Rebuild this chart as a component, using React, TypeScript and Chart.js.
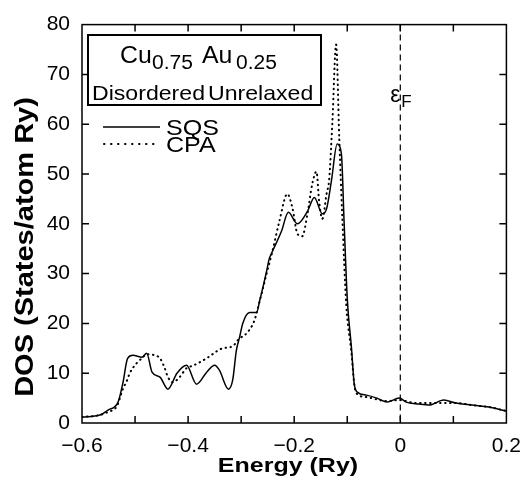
import React, { useEffect, useRef } from "react";
import { Chart, registerables } from "chart.js";

Chart.register(...registerables);

// ---- Data ----
const sqsEnergy = [-0.600, -0.566, -0.551, -0.532, -0.523, -0.514, -0.504, -0.487, -0.478, -0.468, -0.453, -0.438, -0.421, -0.403, -0.384, -0.365, -0.350, -0.341, -0.324, -0.316, -0.309, -0.303, -0.297, -0.284, -0.271, -0.265, -0.252, -0.247, -0.243, -0.224, -0.211, -0.194, -0.175, -0.162, -0.147, -0.139, -0.130, -0.119, -0.111, -0.106, -0.100, -0.092, -0.087, -0.081, -0.064, -0.044, -0.025, -0.002, 0.011, 0.035, 0.054, 0.082, 0.105, 0.135, 0.167, 0.200];
const sqsDos = [1.2, 1.6, 2.6, 4.2, 8, 13, 13.6, 13.2, 14, 10.2, 9.2, 6.8, 10, 11.6, 7.8, 10.2, 11.6, 10.6, 6.8, 8.6, 14.6, 17.2, 20, 22.2, 22.2, 24.6, 30.5, 33, 34, 38.5, 42.3, 40, 42.5, 45.3, 42, 43, 48.5, 56, 54, 40.5, 25, 15, 8, 6.2, 5.6, 5, 4.2, 5, 4.2, 3.8, 3.6, 4.6, 4, 3.6, 3.2, 2.4];

const cpaEnergy = [-0.600, -0.566, -0.551, -0.542, -0.534, -0.523, -0.515, -0.510, -0.497, -0.487, -0.478, -0.463, -0.453, -0.444, -0.438, -0.429, -0.416, -0.403, -0.391, -0.378, -0.365, -0.335, -0.316, -0.305, -0.288, -0.275, -0.265, -0.252, -0.241, -0.228, -0.213, -0.203, -0.194, -0.185, -0.175, -0.166, -0.158, -0.153, -0.147, -0.139, -0.134, -0.128, -0.121, -0.115, -0.109, -0.102, -0.092, -0.087, -0.083, -0.064, -0.025, -0.002, 0.030, 0.079, 0.105, 0.135, 0.167, 0.200];
const cpaDos = [1.2, 1.6, 2.2, 2.6, 3.4, 6.8, 8.6, 10, 12, 13, 13.8, 13.6, 13, 11, 9.2, 8.2, 9.2, 11, 11.5, 12.2, 13, 15, 15.4, 16.8, 18.2, 20.6, 24.5, 30, 34.5, 40.5, 46, 43, 38, 37.5, 42, 48, 50.5, 44.5, 41, 46, 49, 60.5, 76, 57, 40.5, 24, 14, 8, 6, 5.2, 4.4, 4.6, 4, 4, 4, 3.6, 3.2, 2.4];

const xTickLabels = [-0.6, -0.4, -0.2, 0, 0.2];
const yTickLabels = [0, 10, 20, 30, 40, 50, 60, 70, 80];
const xTickMarks = [-0.5, -0.4, -0.3, -0.2, -0.1, 0, 0.1];
const yTickMarks = [10, 20, 30, 40, 50, 60, 70];
const fermiEnergy = 0;

const seriesNames = ["SQS", "CPA"];
const titleLine1 = [["Cu", "0.75"], ["Au", "0.25"]];
const titleLine2 = ["Disordered", "Unrelaxed"];
const xTitle = "Energy (Ry)";
const yTitle = "DOS (States/atom Ry)";

const FONT = '"Liberation Sans", Arial, Helvetica, sans-serif';

function drawText(
  ctx: CanvasRenderingContext2D,
  text: string,
  x: number,
  y: number,
  size: number,
  bold = false,
  sx = 1,
  align: "left" | "center" = "left"
) {
  ctx.save();
  ctx.font = `${bold ? "bold " : ""}${size}px ${FONT}`;
  ctx.textBaseline = "alphabetic";
  ctx.textAlign = "left";
  ctx.fillStyle = "#000";
  const w = ctx.measureText(text).width * sx;
  const x0 = align === "center" ? x - w / 2 : x;
  ctx.translate(x0, y);
  ctx.scale(sx, 1);
  ctx.fillText(text, 0, 0);
  ctx.restore();
}

const decorPlugin = {
  id: "decor",
  beforeDatasetsDraw(chart: any) {
    const { ctx, chartArea, scales } = chart;
    const { top, bottom } = chartArea;
    const xs = scales.x;
    ctx.save();
    const xf = xs.getPixelForValue(fermiEnergy);
    ctx.strokeStyle = "#000";
    ctx.lineWidth = 1.2;
    ctx.setLineDash([6, 4]);
    ctx.beginPath();
    ctx.moveTo(xf, top);
    ctx.lineTo(xf, bottom);
    ctx.stroke();
    ctx.restore();
  },
  afterDatasetsDraw(chart: any) {
    const { ctx, chartArea, scales } = chart;
    const { left, right, top, bottom } = chartArea;
    const xs = scales.x;
    const ys = scales.y;
    ctx.save();
    ctx.strokeStyle = "#000";
    ctx.lineWidth = 1.5;
    ctx.setLineDash([]);
    ctx.strokeRect(left, top, right - left, bottom - top);
    const tl = 7;
    ctx.beginPath();
    for (const v of xTickMarks) {
      const p = xs.getPixelForValue(v);
      ctx.moveTo(p, bottom);
      ctx.lineTo(p, bottom - tl);
      ctx.moveTo(p, top);
      ctx.lineTo(p, top + tl);
    }
    for (const v of yTickMarks) {
      const p = ys.getPixelForValue(v);
      ctx.moveTo(left, p);
      ctx.lineTo(left + tl, p);
      ctx.moveTo(right, p);
      ctx.lineTo(right - tl, p);
    }
    ctx.stroke();

    // Fermi label
    const xf = xs.getPixelForValue(fermiEnergy);
    drawText(ctx, "ε", xf - 10, 102, 24, false, 0.95);
    drawText(ctx, "F", xf + 1, 107, 17, false, 1);

    // Title box
    ctx.fillStyle = "#fff";
    ctx.fillRect(88, 35, 233, 70);
    ctx.lineWidth = 2;
    ctx.strokeRect(88, 35, 233, 70);
    drawText(ctx, titleLine1[0][0], 120, 63, 23, false, 1.08);
    drawText(ctx, titleLine1[0][1], 152, 69, 20, false, 1.05);
    drawText(ctx, titleLine1[1][0], 202, 63, 23, false, 1.08);
    drawText(ctx, titleLine1[1][1], 236, 69, 20, false, 1.05);
    drawText(ctx, titleLine2[0], 92, 100, 21, false, 1.1);
    drawText(ctx, titleLine2[1], 208, 100, 21, false, 1.1);

    // Series legend
    ctx.lineWidth = 1.5;
    ctx.beginPath();
    ctx.moveTo(103, 127);
    ctx.lineTo(160, 127);
    ctx.stroke();
    ctx.lineWidth = 2;
    ctx.lineCap = "round";
    ctx.setLineDash([0.5, 6.5]);
    ctx.beginPath();
    ctx.moveTo(104, 144);
    ctx.lineTo(160, 144);
    ctx.stroke();
    ctx.setLineDash([]);
    ctx.lineCap = "butt";
    drawText(ctx, seriesNames[0], 166, 135, 22, false, 1.14);
    drawText(ctx, seriesNames[1], 166, 152, 22, false, 1.14);

    // Axis titles
    drawText(ctx, xTitle, 288, 472, 21, true, 1.19, "center");
    ctx.save();
    ctx.translate(33, 247);
    ctx.rotate(-Math.PI / 2);
    drawText(ctx, yTitle, 0, 0, 25, true, 1.16, "center");
    ctx.restore();
    ctx.restore();
  },
};

export default function App() {
  const ref = useRef<HTMLCanvasElement>(null);
  useEffect(() => {
    const sqsData = sqsEnergy.map((e, i) => ({ x: e, y: sqsDos[i] }));
    const cpaData = cpaEnergy.map((e, i) => ({ x: e, y: cpaDos[i] }));
    const chart = new Chart(ref.current as HTMLCanvasElement, {
      type: "line",
      data: {
        datasets: [
          {
            label: seriesNames[0],
            data: sqsData,
            borderColor: "#000",
            borderWidth: 1.5,
            pointRadius: 0,
            cubicInterpolationMode: "monotone",
            fill: false,
          },
          {
            label: seriesNames[1],
            data: cpaData,
            borderColor: "#000",
            borderWidth: 2,
            borderDash: [0.5, 4.5],
            borderCapStyle: "round",
            pointRadius: 0,
            cubicInterpolationMode: "monotone",
            fill: false,
          },
        ],
      },
      options: {
        responsive: false,
        animation: false,
        devicePixelRatio: 1,
        layout: { padding: { top: 22, right: 25, left: 0, bottom: 0 } },
        plugins: { legend: { display: false }, tooltip: { enabled: false } },
        scales: {
          x: {
            type: "linear",
            min: -0.6,
            max: 0.2,
            grid: { display: false, drawTicks: false },
            border: { display: false },
            afterBuildTicks: (s: any) => {
              s.ticks = xTickLabels.map((v) => ({ value: v }));
            },
            afterFit: (s: any) => {
              s.height = 55;
            },
            ticks: {
              color: "#000",
              padding: 11,
              maxRotation: 0,
              font: { family: FONT, size: 21 },
              callback: (v: any) => {
                const n = Number(Number(v).toFixed(1));
                return n < 0 ? "\u2212" + Math.abs(n).toString() : n.toString();
              },
            },
          },
          y: {
            type: "linear",
            min: 0,
            max: 80,
            grid: { display: false, drawTicks: false },
            border: { display: false },
            afterBuildTicks: (s: any) => {
              s.ticks = yTickLabels.map((v) => ({ value: v }));
            },
            afterFit: (s: any) => {
              s.width = 82;
            },
            ticks: {
              color: "#000",
              padding: 12,
              font: { family: FONT, size: 21 },
            },
          },
        },
      },
      plugins: [decorPlugin],
    } as any);
    return () => chart.destroy();
  }, []);
  return (
    <div style={{ position: "fixed", left: 0, top: 0, width: 532, height: 478, background: "#fff" }}>
      <canvas ref={ref} width={532} height={478} style={{ display: "block", width: 532, height: 478 }} />
    </div>
  );
}
